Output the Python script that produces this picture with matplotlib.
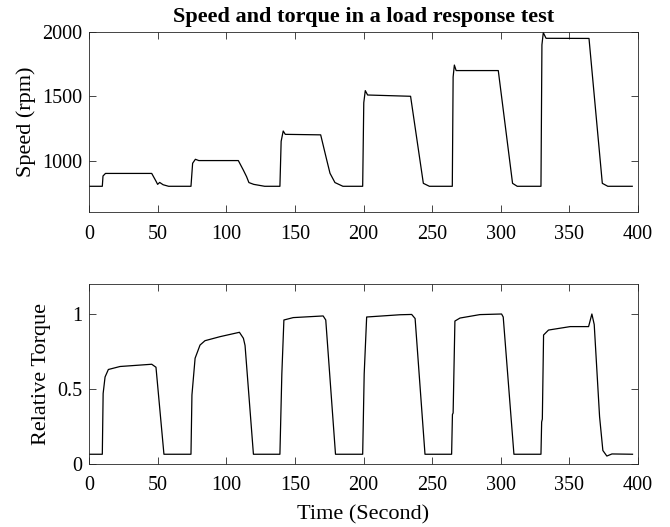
import matplotlib
matplotlib.use("Agg")
import matplotlib.pyplot as plt

plt.rcParams['font.family'] = ['Liberation Serif', 'DejaVu Serif']
plt.rcParams['font.size'] = 14

# speed trace, breakpoints (time s, rpm)
speed_t = [0, 9.7, 10.2, 12, 45.7, 48.8, 50, 51.5, 54, 58, 60,
           74.3, 75.5, 77.5, 80, 108.8, 112.4, 114.8, 116.5, 120, 128,
           139.1, 140, 141.5, 143, 168.8, 173.2, 175.6, 179.2, 185,
           199.4, 200.2, 201.3, 203, 234.3, 243.6, 248,
           264.7, 265.3, 266.2, 267.5, 298.2, 308.6, 312,
           329.3, 330, 331, 333, 364.3, 374, 378, 395.8]
speed_v = [800, 800, 880, 900, 900, 840, 815, 830, 812, 800, 800,
           800, 979, 1010, 1000, 1000, 927, 875, 829, 815, 800,
           800, 1150, 1230, 1204, 1200, 1005, 901, 829, 800,
           800, 1450, 1544, 1510, 1500, 823, 800,
           800, 1650, 1743, 1700, 1700, 823, 800,
           800, 1900, 1995, 1951, 1950, 823, 800, 800]

# relative torque trace
torque_t = [0, 9.7, 10.3, 11.7, 14.1, 22.6, 45.7, 48.8, 54.6,
            74.3, 75, 77.3, 80.9, 84.5, 95.5, 109.6, 112.5, 113.7, 119.8,
            139.1, 140.5, 142, 148.8, 170.6, 172.5, 179.6,
            199.4, 200.5, 202.3, 226.6, 235.1, 237.6, 244.8,
            264.2, 264.8, 265.3, 266.6, 270.3, 284.8, 300.6, 301.8, 309.6,
            329.3, 329.8, 330.3, 331.2, 334.8, 350.6, 364, 366.4, 368.1,
            372, 374.4, 377.3, 381, 396]
torque_v = [0.065, 0.065, 0.47, 0.58, 0.63, 0.65, 0.665, 0.645, 0.065,
            0.065, 0.46, 0.705, 0.793, 0.822, 0.849, 0.878, 0.838, 0.79, 0.065,
            0.065, 0.6, 0.96, 0.976, 0.987, 0.96, 0.065,
            0.065, 0.6, 0.98, 0.995, 0.997, 0.97, 0.065,
            0.065, 0.33, 0.34, 0.953, 0.973, 0.996, 1.0, 0.98, 0.065,
            0.065, 0.28, 0.3, 0.86, 0.893, 0.916, 0.916, 1.0, 0.93,
            0.316, 0.09, 0.053, 0.067, 0.065]

fig = plt.figure(figsize=(6.7, 5.27), dpi=100)
ax1 = fig.add_axes([89 / 670, 1 - 212 / 527, 549 / 670, 180 / 527])
ax2 = fig.add_axes([89 / 670, 1 - 464 / 527, 549 / 670, 180 / 527])

ax1.plot(speed_t, speed_v, color='black', lw=0.9)
ax1.set_xlim(0, 400)
ax1.set_ylim(600, 2000)
ax1.set_yticks([1000, 1500, 2000])
ax1.set_ylabel('Speed (rpm)', fontsize=16, labelpad=4)
ax1.set_title('Speed and torque in a load response test', fontweight='bold',
              fontsize=16, pad=7)

ax2.plot(torque_t, torque_v, color='black', lw=0.9)
ax2.set_xlim(0, 400)
ax2.set_ylim(0, 1.2)
ax2.set_yticks([0, 0.5, 1])
ax2.set_yticklabels(['0', '0.5', '1'])
ax2.set_ylabel('Relative Torque', fontsize=16, labelpad=4)
ax2.set_xlabel('Time (Second)', fontsize=16, labelpad=7)

for ax in (ax1, ax2):
    ax.set_xticks(range(0, 401, 50))
    ax.tick_params(direction='in', top=True, right=True, length=5, width=0.6,
                   colors='#262626', labelcolor='black', labelsize=14.5)
    ax.tick_params(axis='y', pad=5)
    ax.tick_params(axis='x', pad=9)
    for s in ax.spines.values():
        s.set_linewidth(0.6)
        s.set_color('#262626')

fig.savefig('out.png', dpi=100)
